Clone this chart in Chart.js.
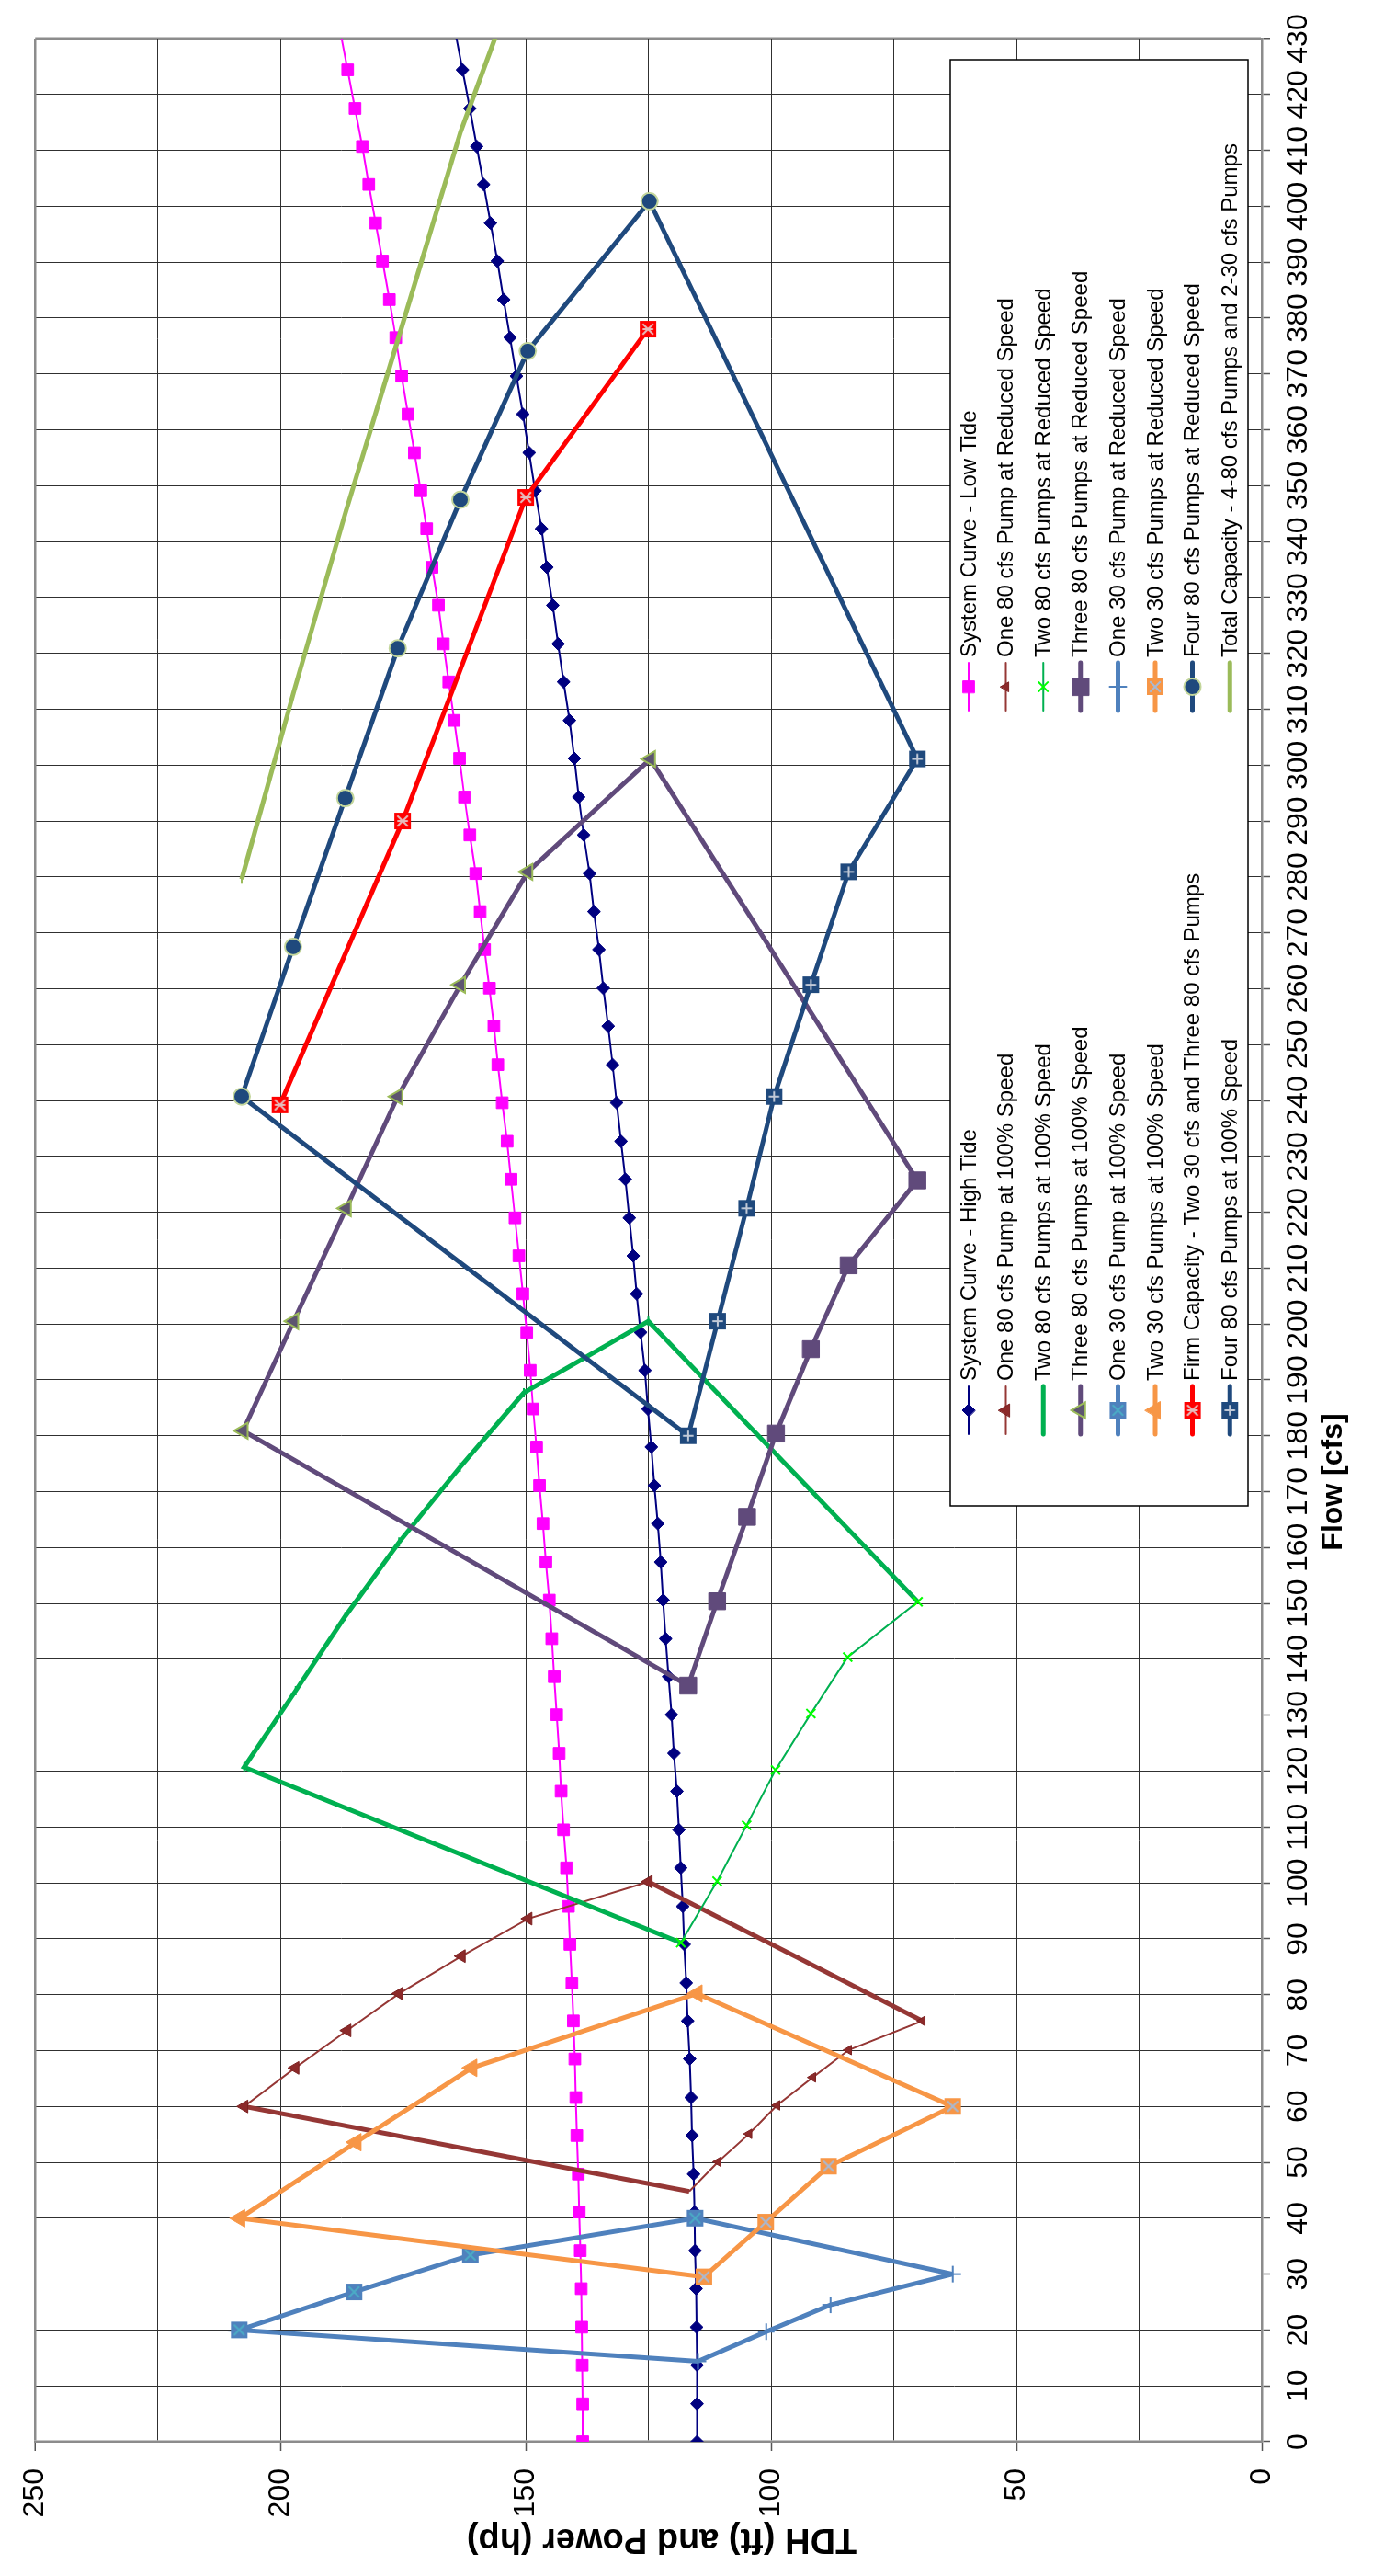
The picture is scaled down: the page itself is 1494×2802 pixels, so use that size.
<!DOCTYPE html>
<html>
<head>
<meta charset="utf-8">
<script src="https://cdn.jsdelivr.net/npm/chart.js@4.4.1/dist/chart.umd.min.js"></script>
<style>
  html, body { margin: 0; padding: 0; background: #ffffff; }
  body { width: 1494px; height: 2802px; overflow: hidden; position: relative; }
  /* the chart is laid out landscape and turned a quarter turn onto the portrait page */
  #turn { position: absolute; left: 0; top: 0; width: 2802px; height: 1494px;
          transform-origin: 0 0; transform: translate(0px, 2802px) rotate(-90deg); }
  canvas { display: block; background: #ffffff; }
</style>
</head>
<body>
<div id="turn"><canvas id="pumps" width="2802" height="1494"></canvas></div>
<script>
// ---- system curves (flow in cfs, TDH in ft) ----
const flowSystem = [0, 6.8, 13.7, 20.5, 27.4, 34.2, 41.1, 47.9, 54.8, 61.6, 68.5, 75.3, 82.1, 89.0, 95.8,
  102.7, 109.5, 116.4, 123.2, 130.1, 136.9, 143.7, 150.6, 157.4, 164.3, 171.1, 178.0, 184.8, 191.7,
  198.5, 205.4, 212.2, 219.0, 225.9, 232.7, 239.6, 246.4, 253.3, 260.1, 267.0, 273.8, 280.6, 287.5, 294.3, 301.2, 308.0,
  314.9, 321.7, 328.6, 335.4, 342.3, 349.1, 355.9, 362.8, 369.6, 376.5, 383.3, 390.2, 397.0, 403.9, 410.7, 417.5, 424.4,
  431.2];
const tdhHighTide = [115.1, 115.1, 115.1, 115.2, 115.3, 115.5, 115.6, 115.8, 116.1, 116.3, 116.6, 117.0, 117.3, 117.7, 118.0,
  118.4, 118.8, 119.2, 119.8, 120.3, 120.9, 121.5, 122.0, 122.5, 123.1, 123.8, 124.4, 125.1, 125.7,
  126.6, 127.4, 128.1, 128.9, 129.7, 130.6, 131.5, 132.3, 133.2, 134.2, 135.1, 136.1, 137.0, 138.2, 139.2, 140.1, 141.1,
  142.3, 143.4, 144.5, 145.7, 146.8, 148.1, 149.3, 150.6, 151.9, 153.2, 154.5, 155.8, 157.2, 158.6, 160.0, 161.4, 162.9,
  164.4];
const tdhLowTide = [138.4, 138.4, 138.5, 138.6, 138.7, 138.9, 139.1, 139.3, 139.6, 139.8, 140.0, 140.3, 140.6, 141.0, 141.3,
  141.7, 142.3, 142.8, 143.2, 143.7, 144.2, 144.7, 145.2, 145.9, 146.5, 147.2, 147.8, 148.5, 149.1,
  149.8, 150.6, 151.4, 152.2, 153.0, 153.8, 154.8, 155.7, 156.5, 157.4, 158.4, 159.3, 160.2, 161.4, 162.5, 163.5, 164.6,
  165.7, 166.8, 167.8, 169.1, 170.2, 171.4, 172.7, 174.0, 175.3, 176.5, 177.8, 179.2, 180.6, 182.0, 183.3, 184.8, 186.3,
  187.8];

// ---- 80 cfs pumps ----
const flowOne80Full = [44.8, 60.0, 66.9, 73.6, 80.2, 86.9, 93.6, 100.2, 75.3];
const tdhOne80Full = [116.7, 207.4, 197.0, 186.4, 175.8, 163.1, 149.5, 125.0, 69.2];
const flowOne80Reduced = [75.3, 70.1, 65.2, 60.2, 55.1, 50.1, 44.8];
const tdhOne80Reduced = [69.2, 84.2, 91.5, 98.8, 104.5, 110.8, 116.7];

const flowTwo80Full = [150.3, 200.5, 187.7, 174.4, 161.0, 147.7, 134.4, 120.7, 89.3];
const tdhTwo80Full = [70.1, 125.0, 150.4, 163.4, 175.8, 186.8, 196.9, 207.4, 118.4];
const flowTwo80Reduced = [89.3, 100.3, 110.3, 120.2, 130.3, 140.4, 150.3];
const tdhTwo80Reduced = [118.4, 111.0, 105.0, 99.1, 91.9, 84.4, 70.1];

const flowThree80Full = [225.7, 301.1, 280.9, 260.7, 240.7, 220.7, 200.5, 180.9, 135.3];
const tdhThree80Full = [70.2, 124.6, 149.6, 163.3, 176.1, 186.6, 197.3, 207.6, 116.9];
const flowThree80Reduced = [135.3, 150.4, 165.5, 180.4, 195.5, 210.5, 225.7];
const tdhThree80Reduced = [116.9, 111.0, 104.9, 99.0, 91.9, 84.2, 70.2];

const flowFour80Reduced = [301.1, 400.9, 374.1, 347.5, 320.9, 294.1, 267.5, 240.7, 180.0];
const tdhFour80Reduced = [70.2, 124.8, 149.6, 163.3, 176.1, 186.8, 197.4, 207.9, 116.9];
const flowFour80Full = [180.0, 200.5, 220.7, 240.7, 260.7, 280.9, 301.1];
const tdhFour80Full = [116.9, 110.9, 105.0, 99.4, 91.9, 84.2, 70.2];

// ---- 30 cfs pumps ----
const flowOne30Full = [14.4, 20.0, 26.8, 33.4, 40.0, 30.0];
const tdhOne30Full = [114.9, 208.4, 185.0, 161.3, 115.5, 63.0];
const flowOne30Reduced = [30.0, 24.5, 19.7, 14.4];
const tdhOne30Reduced = [63.0, 87.9, 101.0, 114.9];

const flowTwo30Full = [29.5, 40.0, 53.6, 66.9, 80.2, 60.0];
const tdhTwo30Full = [113.7, 208.3, 184.6, 161.0, 115.1, 63.0];
const flowTwo30Reduced = [60.0, 49.3, 39.3, 29.5];
const tdhTwo30Reduced = [63.0, 88.3, 101.1, 113.7];

// ---- station capacities ----
const flowFirm = [239.2, 290.0, 347.9, 378.0];
const tdhFirm = [200.1, 175.1, 150.0, 125.1];
const flowTotal = [279.6, 312.8, 345.0, 376.0, 413.3, 446.0];
const tdhTotal = [207.9, 197.4, 186.8, 176.1, 163.3, 149.6];

// ---- axes ----
const flowTicks = { min: 0, max: 430, step: 10 };
const tdhTicks = { min: 0, max: 250, step: 25, labelEvery: 50 };
const flowTitle = 'Flow [cfs]';
const tdhTitle = 'TDH (ft) and Power (hp)';

const FONT = '"Liberation Sans", Arial, sans-serif';
const GRID = '#303030';
const FRAME = '#8c8c8c';

function pts(xs, ys) { return xs.map((x, i) => ({ x: x, y: ys[i] })); }

// small composite markers (filled square with a light glyph on top)
function squareGlyph(side, fill, glyphColor, glyph) {
  const c = document.createElement('canvas');
  c.width = side + 2; c.height = side + 2;
  const g = c.getContext('2d');
  g.fillStyle = fill;
  g.fillRect(1, 1, side, side);
  g.strokeStyle = glyphColor;
  g.lineWidth = 2;
  const a = 1 + side * 0.18, b = 1 + side * 0.82, m = (side + 2) / 2;
  g.beginPath();
  if (glyph.indexOf('x') >= 0) { g.moveTo(a, a); g.lineTo(b, b); g.moveTo(b, a); g.lineTo(a, b); }
  if (glyph.indexOf('+') >= 0) { g.moveTo(m, a); g.lineTo(m, b); g.moveTo(a, m); g.lineTo(b, m); }
  if (glyph.indexOf('|') >= 0) { g.moveTo(m, a); g.lineTo(m, b); }
  g.stroke();
  return c;
}

const markOne30 = squareGlyph(18, '#4F81BD', '#4BACC6', 'x');
const markTwo30Red = squareGlyph(18, '#F79646', '#A9B9D3', 'x');
const markFirm = squareGlyph(18, '#FF0000', '#E6BDBD', 'x|');
const markFour80 = squareGlyph(18, '#1F497D', '#C2CAD8', '+');

function radii(n, r, hide) { return Array.from({ length: n }, (_, i) => hide.indexOf(i) >= 0 ? 0 : r); }

const datasets = [
  { label: 'System Curve - High Tide', data: pts(flowSystem, tdhHighTide),
    borderColor: '#000080', borderWidth: 2, pointStyle: 'rectRot', pointRadius: 7,
    pointBackgroundColor: '#000080', pointBorderColor: '#000080', pointBorderWidth: 1 },
  { label: 'System Curve - Low Tide', data: pts(flowSystem, tdhLowTide),
    borderColor: '#FF00FF', borderWidth: 2, pointStyle: 'rect', pointRadius: 9,
    pointBackgroundColor: '#FF00FF', pointBorderColor: '#FF00FF', pointBorderWidth: 1 },
  { label: 'One 80 cfs Pump at 100% Speed', data: pts(flowOne80Full, tdhOne80Full),
    borderColor: '#953735', borderWidth: 2,
    segment: { borderWidth: c => (c.p0DataIndex === 0 || c.p1DataIndex === flowOne80Full.length - 1) ? 5 : 2 },
    pointStyle: 'triangle', pointRadius: radii(flowOne80Full.length, 8, [0, flowOne80Full.length - 1]),
    pointBackgroundColor: '#8C2A2A', pointBorderColor: '#7A1F1F', pointBorderWidth: 1 },
  { label: 'One 80 cfs Pump at Reduced Speed', data: pts(flowOne80Reduced, tdhOne80Reduced),
    borderColor: '#953735', borderWidth: 2, pointStyle: 'triangle', pointRadius: radii(flowOne80Reduced.length, 6, [flowOne80Reduced.length - 1]),
    pointBackgroundColor: '#8C2A2A', pointBorderColor: '#7A1F1F', pointBorderWidth: 1 },
  { label: 'Two 80 cfs Pumps at 100% Speed', data: pts(flowTwo80Full, tdhTwo80Full),
    borderColor: '#00B050', borderWidth: 5, pointStyle: 'line', pointRadius: radii(flowTwo80Full.length, 5, [0, flowTwo80Full.length - 1]),
    pointBackgroundColor: '#00B050', pointBorderColor: '#00B050', pointBorderWidth: 2 },
  { label: 'Two 80 cfs Pumps at Reduced Speed', data: pts(flowTwo80Reduced, tdhTwo80Reduced),
    borderColor: '#00B050', borderWidth: 2, pointStyle: 'crossRot', pointRadius: 7,
    pointBackgroundColor: '#00FF00', pointBorderColor: '#00FF00', pointBorderWidth: 2 },
  { label: 'Three 80 cfs Pumps at 100% Speed', data: pts(flowThree80Full, tdhThree80Full),
    borderColor: '#604A7B', borderWidth: 5, pointStyle: 'triangle', pointRadius: radii(flowThree80Full.length, 10, [0, flowThree80Full.length - 1]),
    pointBackgroundColor: '#5D5570', pointBorderColor: '#9BBB59', pointBorderWidth: 2 },
  { label: 'Three 80 cfs Pumps at Reduced Speed', data: pts(flowThree80Reduced, tdhThree80Reduced),
    borderColor: '#604A7B', borderWidth: 5, pointStyle: 'rect', pointRadius: 13,
    pointBackgroundColor: '#604A7B', pointBorderColor: '#604A7B', pointBorderWidth: 1 },
  { label: 'One 30 cfs Pump at 100% Speed', data: pts(flowOne30Full, tdhOne30Full),
    borderColor: '#4F81BD', borderWidth: 5, pointStyle: markOne30, pointRadius: radii(flowOne30Full.length, 9, [0, flowOne30Full.length - 1]) },
  { label: 'One 30 cfs Pump at Reduced Speed', data: pts(flowOne30Reduced, tdhOne30Reduced),
    borderColor: '#4F81BD', borderWidth: 5, pointStyle: 'cross', pointRadius: 9,
    pointBackgroundColor: '#4F81BD', pointBorderColor: '#4F81BD', pointBorderWidth: 2 },
  { label: 'Two 30 cfs Pumps at 100% Speed', data: pts(flowTwo30Full, tdhTwo30Full),
    borderColor: '#F79646', borderWidth: 5, pointStyle: 'triangle', pointRadius: radii(flowTwo30Full.length, 11, [0, flowTwo30Full.length - 1]),
    pointBackgroundColor: '#F79646', pointBorderColor: '#F79646', pointBorderWidth: 1 },
  { label: 'Two 30 cfs Pumps at Reduced Speed', data: pts(flowTwo30Reduced, tdhTwo30Reduced),
    borderColor: '#F79646', borderWidth: 5, pointStyle: markTwo30Red, pointRadius: 9 },
  { label: 'Firm Capacity - Two 30 cfs and Three 80 cfs Pumps', data: pts(flowFirm, tdhFirm),
    borderColor: '#FF0000', borderWidth: 5, pointStyle: markFirm, pointRadius: 9 },
  { label: 'Four 80 cfs Pumps at Reduced Speed', data: pts(flowFour80Reduced, tdhFour80Reduced),
    borderColor: '#1F497D', borderWidth: 5, pointStyle: 'circle', pointRadius: radii(flowFour80Reduced.length, 9, [0, flowFour80Reduced.length - 1]),
    pointBackgroundColor: '#1F497D', pointBorderColor: '#C3D69B', pointBorderWidth: 2 },
  { label: 'Four 80 cfs Pumps at 100% Speed', data: pts(flowFour80Full, tdhFour80Full),
    borderColor: '#1F497D', borderWidth: 5, pointStyle: markFour80, pointRadius: 9 },
  { label: 'Total Capacity - 4-80 cfs Pumps and 2-30 cfs Pumps', data: pts(flowTotal, tdhTotal),
    borderColor: '#9BBB59', borderWidth: 5, pointStyle: 'line', pointRadius: 5,
    pointBackgroundColor: '#9BBB59', pointBorderColor: '#9BBB59', pointBorderWidth: 2 }
];
datasets.forEach((d, i) => {
  d.showLine = true;
  d.fill = false;
  d.tension = 0;
  d.order = datasets.length - i;   // later series paint over earlier ones
});

// legend box inside the plot, two columns filled row by row, plus the two axis titles
const legendBox = {
  id: 'legendBox',
  afterDraw(chart) {
    const ctx = chart.ctx;
    const a = chart.chartArea;
    const left = a.left + 1018, top = 1034, right = a.right - 23, bottom = 1358;
    ctx.save();
    ctx.fillStyle = '#ffffff';
    ctx.fillRect(left, top, right - left, bottom - top);
    ctx.strokeStyle = '#000000';
    ctx.lineWidth = 1.5;
    ctx.strokeRect(left, top, right - left, bottom - top);
    const colX = [left + 104, left + 891];
    chart.data.datasets.forEach((ds, i) => {
      const row = Math.floor(i / 2), col = i % 2;
      const y = top + 20 + row * 40.6;
      const cx = colX[col];
      ctx.strokeStyle = ds.borderColor;
      ctx.lineWidth = ds.borderWidth;
      ctx.lineCap = 'round';
      ctx.beginPath();
      ctx.moveTo(cx - 26, y);
      ctx.lineTo(cx + 26, y);
      ctx.stroke();
      const r = Array.isArray(ds.pointRadius) ? Math.max.apply(null, ds.pointRadius) : ds.pointRadius;
      if (ds.pointStyle !== 'line') {
        ctx.fillStyle = ds.pointBackgroundColor || ds.borderColor;
        ctx.strokeStyle = ds.pointBorderColor || ds.borderColor;
        ctx.lineWidth = ds.pointBorderWidth || 1;
        Chart.helpers.drawPoint(ctx, { pointStyle: ds.pointStyle, radius: r, rotation: 0,
          borderWidth: ds.pointBorderWidth || 0 }, cx, y);
      }
      ctx.fillStyle = '#000000';
      ctx.font = '24px ' + FONT;
      ctx.textAlign = 'left';
      ctx.textBaseline = 'middle';
      ctx.fillText(ds.label, cx + 32, y + 1);
    });
    // flow axis title, set toward the low-flow side
    ctx.font = 'bold 32px ' + FONT;
    ctx.textAlign = 'center';
    ctx.textBaseline = 'middle';
    ctx.fillStyle = '#000000';
    ctx.fillText(flowTitle, a.left + 1044, a.bottom + 78);
    // TDH axis title, reading upward along the left side
    ctx.translate(41, 720);
    ctx.rotate(-Math.PI / 2);
    ctx.font = 'bold 38px ' + FONT;
    ctx.fillText(tdhTitle, 0, 0);
    ctx.restore();
  }
};

Chart.defaults.font.family = FONT;
Chart.defaults.color = '#000000';

new Chart(document.getElementById('pumps'), {
  type: 'scatter',
  data: { datasets: datasets },
  options: {
    responsive: false,
    animation: false,
    devicePixelRatio: 1,
    layout: { padding: { left: 0, right: 42, top: 24, bottom: 0 } },
    plugins: { legend: { display: false }, tooltip: { enabled: false } },
    scales: {
      x: {
        type: 'linear', position: 'bottom',
        min: flowTicks.min, max: flowTicks.max,
        afterFit: s => { s.height = 121; },
        ticks: { stepSize: flowTicks.step, autoSkip: false, maxRotation: 0, padding: 12,
                 font: { size: 32 }, color: '#000000' },
        grid: {
          color: c => (c.tick && c.tick.value === flowTicks.max) ? FRAME : GRID,
          lineWidth: c => (c.tick && c.tick.value === flowTicks.max) ? 2.5 : 1,
          tickColor: '#555555', tickLength: 9, tickWidth: 1.5, drawTicks: true
        },
        border: { display: true, color: FRAME, width: 2.5 },
        title: { display: false }
      },
      y: {
        type: 'linear', position: 'left',
        min: tdhTicks.min, max: tdhTicks.max,
        afterFit: s => { s.width = 146; },
        ticks: { stepSize: tdhTicks.step, autoSkip: false, padding: 19, font: { size: 32 }, color: '#000000',
                 callback: v => (v % tdhTicks.labelEvery === 0) ? String(v) : '' },
        grid: {
          color: c => (c.tick && c.tick.value === tdhTicks.max) ? FRAME : GRID,
          lineWidth: c => (c.tick && c.tick.value === tdhTicks.max) ? 2.5 : 1,
          tickColor: c => (c.tick && c.tick.value % tdhTicks.labelEvery === 0) ? '#555555' : 'rgba(0,0,0,0)',
          tickLength: 10, tickWidth: 1.5, drawTicks: true
        },
        border: { display: true, color: FRAME, width: 2.5 },
        title: { display: false }
      }
    }
  },
  plugins: [legendBox]
});
</script>
</body>
</html>
